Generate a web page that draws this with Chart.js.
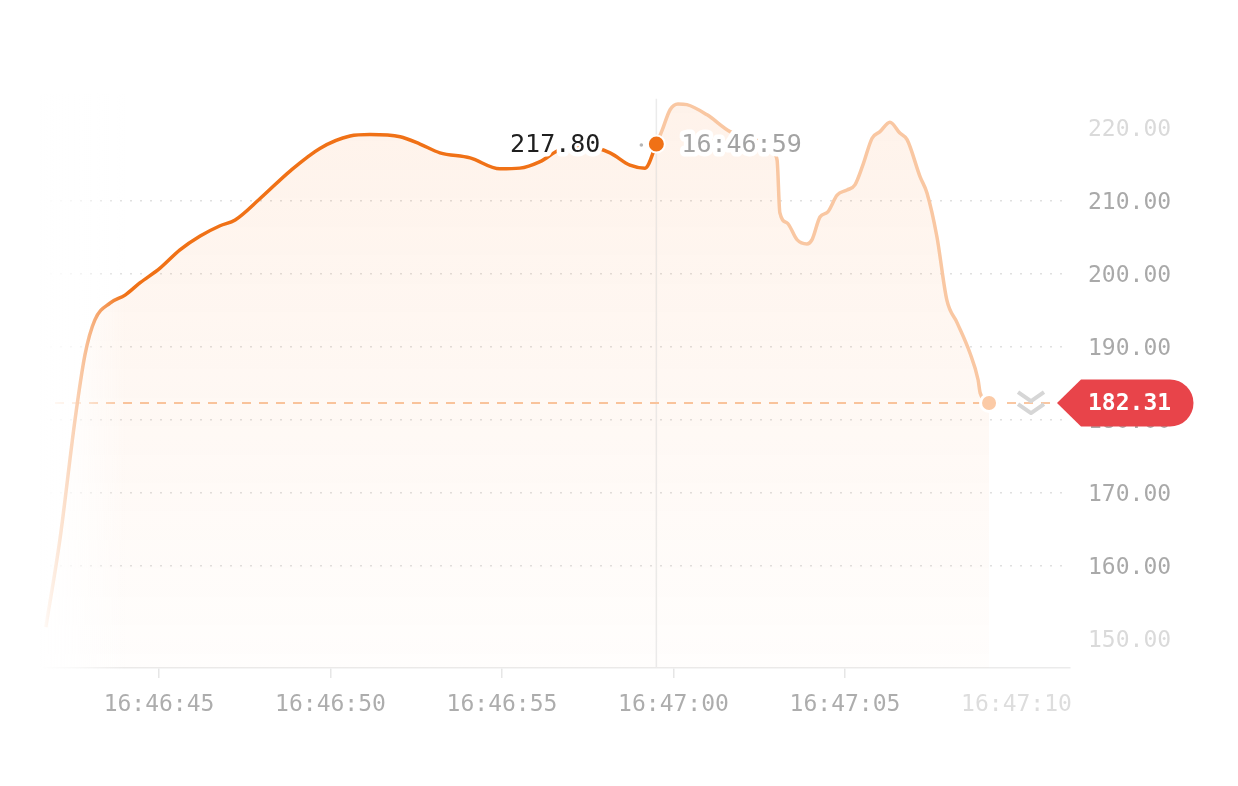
<!DOCTYPE html>
<html>
<head>
<meta charset="utf-8">
<script src="https://cdn.jsdelivr.net/npm/chart.js@4.4.1/dist/chart.umd.min.js"></script>
<style>
  html, body { margin: 0; padding: 0; background: #ffffff; }
  #container-linha { width: 1238px; height: 786px; position: relative; }
</style>
</head>
<body>
<div id="container-linha"><canvas id="grafico-linha"></canvas></div>
<script>
// seconds after 16:46:40
const times = [1.7, 2.11, 2.55, 2.84, 3.13, 3.57, 4.01, 4.45, 5.03, 5.61, 6.2, 6.78, 7.22, 7.94, 8.82,
  9.69, 10.57, 11.15, 12.03, 12.61, 13.19, 14.07, 14.94, 15.52, 16.11, 16.69, 17.56, 18.15, 18.73, 19.17,
  19.5, 19.67, 19.9, 20.13, 20.39, 20.98, 21.65, 22.52, 22.9, 23.02, 23.1, 23.31, 23.6, 23.89, 24.04,
  24.27, 24.5, 24.77, 25.06, 25.29, 25.52, 25.79, 26.02, 26.31, 26.6, 26.81, 27.19, 27.39, 27.68, 27.97,
  28.27, 28.64, 28.88, 28.94, 29.2];
const prices = [151.6, 163.6, 180.0, 188.9, 193.7, 196.0, 197.1, 198.8, 200.8, 203.3, 205.2, 206.6, 207.4, 210.3, 214.1,
  217.2, 218.9, 219.1, 218.8, 217.8, 216.6, 215.9, 214.4, 214.5, 215.4, 217.0, 217.4, 216.6, 214.9, 214.5,
  217.8, 219.7, 222.5, 223.3, 223.2, 221.8, 219.5, 218.2, 216.6, 215.6, 208.4, 207.0, 204.7, 204.1, 204.7,
  207.8, 208.5, 210.8, 211.5, 212.2, 214.9, 218.6, 219.5, 220.8, 219.3, 218.4, 213.3, 211.1, 205.1, 196.4,
  193.3, 189.2, 185.5, 183.7, 182.31];
const xTicks = [5, 10, 15, 20, 25, 30];
const yTicks = [150, 160, 170, 180, 190, 200, 210, 220];
const cursorTime = 19.5;
const cursorPrice = 217.80;
const lastPrice = 182.31;
const baseSeconds = 16 * 3600 + 46 * 60 + 40;

const laranja = '#f07116';
const laranjaClaro = '#f9c7a2';
const fonte = '"DejaVu Sans Mono", "Liberation Mono", monospace';

function relogio(t) {
    let s = Math.floor(baseSeconds + t);
    let h = Math.floor(s / 3600), m = Math.floor((s % 3600) / 60), sec = s % 60;
    return [h, m, sec].map(n => String(n).padStart(2, '0')).join(':');
}

// text with a white halo so the line under it is cut round the glyphs
function textoHalo(ctx, text, x, y, align, color) {
    ctx.font = '25px ' + fonte;
    ctx.textAlign = align;
    ctx.textBaseline = 'middle';
    ctx.lineJoin = 'round';
    ctx.lineWidth = 9;
    ctx.strokeStyle = '#ffffff';
    ctx.strokeText(text, x, y + 1);
    ctx.fillStyle = color;
    ctx.fillText(text, x, y + 1);
}

const extras = {
    id: 'extras',
    beforeDatasetsDraw(chart) {
        const {ctx, chartArea: a, scales: {x, y}} = chart;
        let yl = y.getPixelForValue(lastPrice);
        let cx = x.getPixelForValue(cursorTime);
        ctx.save();
        // crosshair
        ctx.strokeStyle = '#ebebeb';
        ctx.lineWidth = 1.5;
        ctx.beginPath();
        ctx.moveTo(cx, a.top);
        ctx.lineTo(cx, a.bottom);
        ctx.stroke();
        // last price line
        ctx.strokeStyle = laranjaClaro;
        ctx.lineWidth = 2;
        ctx.setLineDash([9, 8]);
        ctx.beginPath();
        ctx.moveTo(a.left + 15, yl);
        ctx.lineTo(a.right - 13, yl);
        ctx.stroke();
        ctx.restore();
    },
    afterDatasetsDraw(chart) {
        const {ctx, chartArea: a, scales: {x, y}} = chart;
        ctx.save();
        // left fade
        let g = ctx.createLinearGradient(a.left, 0, a.left + 85, 0);
        g.addColorStop(0, 'rgba(255,255,255,1)');
        g.addColorStop(0.45, 'rgba(255,255,255,0.65)');
        g.addColorStop(1, 'rgba(255,255,255,0)');
        ctx.fillStyle = g;
        ctx.fillRect(0, a.top - 5, a.left + 85, a.bottom - a.top + 7);

        let cx = x.getPixelForValue(cursorTime);
        let cy = y.getPixelForValue(cursorPrice);
        textoHalo(ctx, cursorPrice.toFixed(2), cx - 56, cy, 'right', '#1f1f1f');
        textoHalo(ctx, relogio(cursorTime), cx + 25, cy, 'left', '#a3a3a3');
        ctx.fillStyle = '#b5b5b5';
        ctx.beginPath();
        ctx.arc(cx - 15, cy + 1, 1.8, 0, Math.PI * 2);
        ctx.fill();
        ctx.fillStyle = laranja;
        ctx.strokeStyle = '#ffffff';
        ctx.lineWidth = 2;
        ctx.beginPath();
        ctx.arc(cx, cy, 8.5, 0, Math.PI * 2);
        ctx.fill();
        ctx.stroke();

        let ex = x.getPixelForValue(times[times.length - 1]);
        let ey = y.getPixelForValue(lastPrice);
        ctx.fillStyle = '#fbcaa6';
        ctx.lineWidth = 3;
        ctx.beginPath();
        ctx.arc(ex, ey, 8.5, 0, Math.PI * 2);
        ctx.fill();
        ctx.stroke();
        ctx.restore();
    },
    afterDraw(chart) {
        const {ctx, chartArea: a, scales: {y}} = chart;
        let yl = y.getPixelForValue(lastPrice);
        ctx.save();
        // chevrons
        ctx.strokeStyle = '#d6d6d6';
        ctx.lineWidth = 4;
        ctx.lineJoin = 'round';
        let ch = a.right - 39;
        [yl - 11, yl + 1].forEach(t => {
            ctx.beginPath();
            ctx.moveTo(ch - 13, t);
            ctx.lineTo(ch, t + 9);
            ctx.lineTo(ch + 13, t);
            ctx.stroke();
        });
        // price tag
        let tip = a.right - 13, r = 23.5;
        ctx.fillStyle = '#e8444a';
        ctx.beginPath();
        ctx.moveTo(tip, yl);
        ctx.lineTo(tip + 24, yl - r);
        ctx.lineTo(1170, yl - r);
        ctx.arc(1170, yl, r, -Math.PI / 2, Math.PI / 2);
        ctx.lineTo(tip + 24, yl + r);
        ctx.closePath();
        ctx.fill();
        ctx.fillStyle = '#ffffff';
        ctx.font = 'bold 23px ' + fonte;
        ctx.textAlign = 'left';
        ctx.textBaseline = 'middle';
        ctx.fillText(lastPrice.toFixed(2), a.right + 18, yl + 1);
        ctx.restore();
    }
};

function drawChartLinha() {
    let ctx = document.getElementById('grafico-linha').getContext('2d');
    const data = {
        datasets: [{
            label: '',
            data: times.map((t, i) => ({x: t, y: prices[i]})),
            borderColor: laranja,
            borderWidth: 3.5,
            pointRadius: 0,
            cubicInterpolationMode: 'monotone',
            fill: 'start',
            backgroundColor: function(context) {
                let area = context.chart.chartArea;
                if (!area) return 'rgba(249,115,22,0.06)';
                let g = context.chart.ctx.createLinearGradient(0, area.top, 0, area.bottom);
                g.addColorStop(0, 'rgba(249,115,22,0.09)');
                g.addColorStop(1, 'rgba(249,115,22,0.01)');
                return g;
            },
            segment: {
                borderColor: c => c.p1.parsed.x > cursorTime ? laranjaClaro : laranja
            }
        }]
    };
    const config = {
        type: 'line',
        data: data,
        plugins: [extras],
        options: {
            responsive: true,
            maintainAspectRatio: false,
            animation: false,
            layout: {
                padding: { left: 40, right: 0, top: 98.8, bottom: 0 }
            },
            plugins: {
                legend: false,
                tooltip: false
            },
            scales: {
                x: {
                    type: 'linear',
                    min: 1.53,
                    max: 31.56,
                    afterBuildTicks: s => { s.ticks = xTicks.map(v => ({value: v})); },
                    afterFit: s => { s.height = 118; },
                    border: { color: '#ebebeb', width: 1.5 },
                    grid: {
                        drawOnChartArea: false,
                        drawTicks: true,
                        tickLength: 10,
                        lineWidth: 1.5,
                        color: c => c.tick && c.tick.value === 30 ? 'rgba(0,0,0,0)' : '#e6e6e6'
                    },
                    ticks: {
                        padding: 13,
                        maxRotation: 0,
                        autoSkip: false,
                        font: { family: fonte, size: 23 },
                        color: c => c.tick.value === 30 ? '#dddddd' : '#adadad',
                        callback: v => relogio(v)
                    }
                },
                y: {
                    position: 'right',
                    min: 146,
                    max: 224,
                    afterBuildTicks: s => { s.ticks = yTicks.map(v => ({value: v})); },
                    afterFit: s => { s.width = 168; },
                    border: { display: false, dash: [2, 8] },
                    grid: {
                        drawTicks: false,
                        lineWidth: 1.5,
                        color: c => (c.tick && (c.tick.value === 150 || c.tick.value === 220)) ? 'rgba(0,0,0,0)' : '#e0e0e0'
                    },
                    ticks: {
                        padding: 18,
                        labelOffset: 2,
                        font: { family: fonte, size: 23 },
                        color: c => (c.tick.value === 150 || c.tick.value === 220) ? '#dadada' : '#a9a9a9',
                        callback: v => Number(v).toFixed(2)
                    }
                }
            }
        }
    };
    new Chart(ctx, config);
}

drawChartLinha();
</script>
</body>
</html>
